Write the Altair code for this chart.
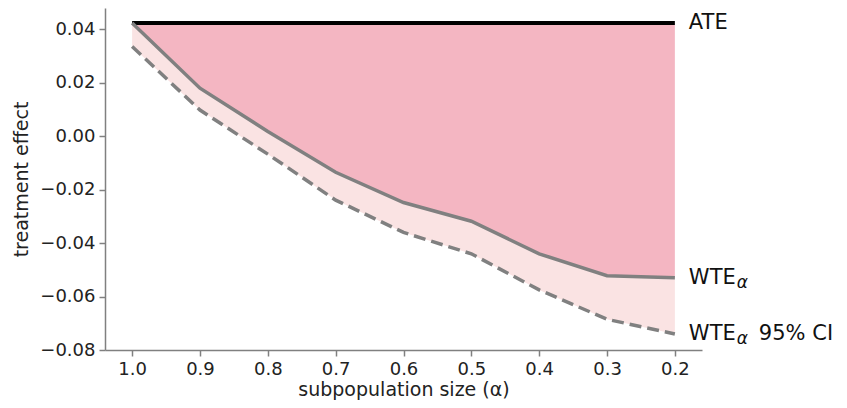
import altair as alt
import pandas as pd

alpha = [1.0, 0.9, 0.8, 0.7, 0.6, 0.5, 0.4, 0.3, 0.2]
ate = [0.0424] * 9
wte = [0.0424, 0.0180, 0.0018, -0.0135, -0.0248, -0.0318, -0.0440, -0.0522, -0.0530]
wte_ci = [0.0336, 0.0098, -0.0067, -0.0239, -0.0360, -0.0440, -0.0575, -0.0685, -0.0740]

label_text = ["ATE", "WTE", "WTE", "95% CI"]

df = pd.DataFrame({"alpha": alpha, "ate": ate, "wte": wte, "ci": wte_ci})

xs = alt.Scale(domain=[0.16, 1.04], reverse=True, nice=False, zero=False)
ys = alt.Scale(domain=[-0.08, 0.048], nice=False, zero=False)

X = alt.X("alpha:Q", scale=xs,
          axis=alt.Axis(title="subpopulation size (α)", values=alpha, format=".1f"))
Y = alt.Y("wte:Q", scale=ys,
          axis=alt.Axis(title="treatment effect", values=[-0.08, -0.06, -0.04, -0.02, 0.0, 0.02, 0.04], format=".2f"))

base = alt.Chart(df)

area_dark = base.mark_area(color="#f4b6c2", opacity=1).encode(x=X, y=Y, y2="ate:Q")
area_light = base.mark_area(color="#fae3e3", opacity=1).encode(
    x="alpha:Q", y="ci:Q", y2="wte:Q")

ate_line = base.mark_line(color="black", strokeWidth=4, strokeCap="butt").encode(
    x="alpha:Q", y="ate:Q")
wte_line = base.mark_line(color="#808080", strokeWidth=3.5).encode(
    x="alpha:Q", y="wte:Q")
ci_line = base.mark_line(color="#808080", strokeWidth=3.5, strokeDash=[12, 6]).encode(
    x="alpha:Q", y="ci:Q")

last = df[df["alpha"] == 0.2]
lab = pd.DataFrame({
    "alpha": [0.2, 0.2, 0.2],
    "val": [last["ate"].iloc[0], last["wte"].iloc[0], last["ci"].iloc[0]],
    "txt": [label_text[0], label_text[1], label_text[2]],
})
labels = alt.Chart(lab).mark_text(
    align="left", baseline="middle", dx=14, fontSize=21, font="DejaVu Sans", color="#111"
).encode(x="alpha:Q", y="val:Q", text="txt:N")

sub = pd.DataFrame({
    "alpha": [0.2, 0.2],
    "val": [last["wte"].iloc[0], last["ci"].iloc[0]],
    "txt": ["α", "α"],
})
sublabels = alt.Chart(sub).mark_text(
    align="left", baseline="middle", dx=62, dy=5, fontSize=17, fontStyle="italic",
    font="DejaVu Sans", color="#111"
).encode(x="alpha:Q", y="val:Q", text="txt:N")

ci_tail = pd.DataFrame({"alpha": [0.2], "val": [last["ci"].iloc[0]], "txt": [label_text[3]]})
ci_text = alt.Chart(ci_tail).mark_text(
    align="left", baseline="middle", dx=84, fontSize=21, font="DejaVu Sans", color="#111"
).encode(x="alpha:Q", y="val:Q", text="txt:N")

chart = alt.layer(area_dark, area_light, ate_line, wte_line, ci_line,
                  labels, sublabels, ci_text).properties(
    width=597, height=342,
    autosize=alt.AutoSizeParams(type="none"),
    padding={"left": 97, "top": 0, "right": 137, "bottom": 50},
).configure_view(stroke=None).configure_axis(
    grid=False, domainColor="#808080", domainWidth=1.5, tickColor="#808080",
    tickWidth=1.5, tickSize=6, labelFontSize=18, labelFont="DejaVu Sans",
    labelColor="#222", titleFont="DejaVu Sans", titleFontSize=19,
    titleFontWeight="normal", titleColor="#222", labelPadding=4,
).configure_axisY(titlePadding=8).configure_axisX(titlePadding=2)

chart.save("out.html", embed_options={"renderer": "svg", "actions": False})
